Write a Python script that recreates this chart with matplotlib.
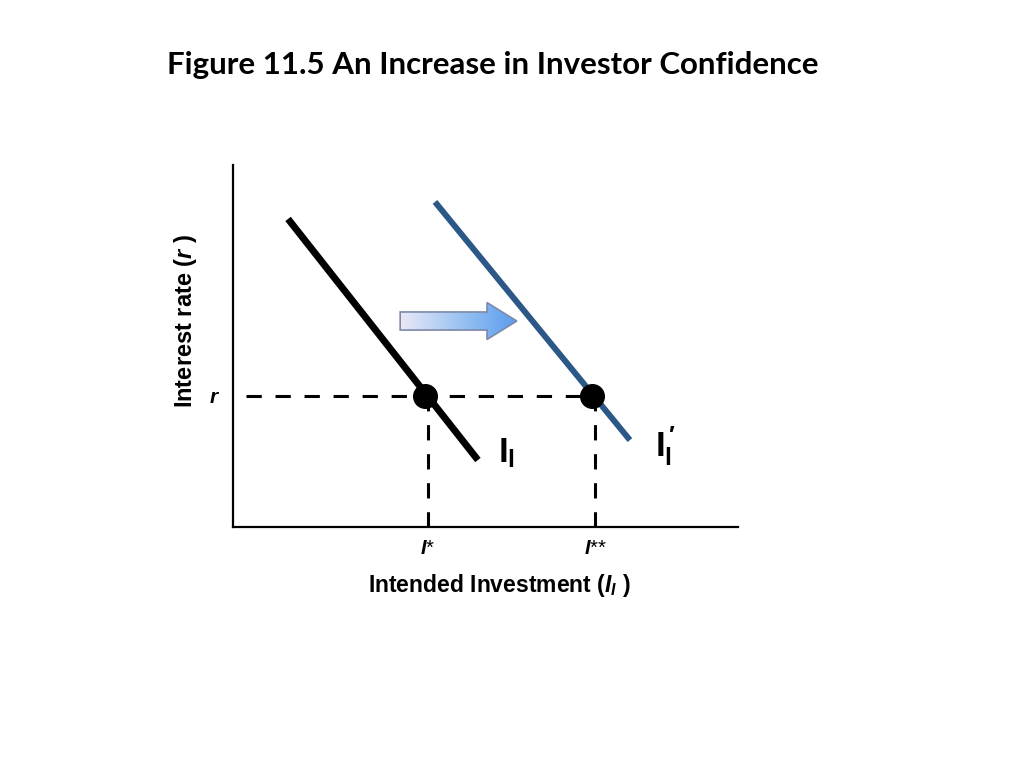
import numpy as np
import matplotlib
matplotlib.use("Agg")
import matplotlib.pyplot as plt
from matplotlib.patches import FancyArrow

plt.rcParams['font.family'] = ['Liberation Sans', 'DejaVu Sans']
plt.rcParams['mathtext.fontset'] = 'custom'
plt.rcParams['mathtext.rm'] = 'Liberation Sans:bold'
plt.rcParams['mathtext.it'] = 'Liberation Sans:italic:bold'
plt.rcParams['mathtext.bf'] = 'Liberation Sans:bold'

# curves (axis units 0-100)
ii_x = [10.9, 48.5]
ii_y = [85.1, 18.5]
ii2_x = [40.0, 78.6]
ii2_y = [89.8, 24.0]
# equilibrium points
eq_x = [38.0, 71.1]
eq_y = [36.2, 36.2]
tick_labels = ['$I$*', '$I$**']

fig = plt.figure(figsize=(10.24, 7.68), dpi=100)
fig.text(0.481, 0.915, 'Figure 11.5 An Increase in Investor Confidence',
         ha='center', va='center', fontsize=22.5, fontweight='bold', family='Lato')

ax = fig.add_axes([233/1024, 1-527/768, 505/1024, 362/768])
ax.set_xlim(0, 100)
ax.set_ylim(0, 100)
for s in ['top', 'right']:
    ax.spines[s].set_visible(False)
for s in ['left', 'bottom']:
    ax.spines[s].set_linewidth(1.6)

# dashed guides
ax.plot([2.5, eq_x[1]], [eq_y[0], eq_y[0]], color='black', lw=2.2, dashes=(5, 4.5))
for x in eq_x:
    ax.plot([x + 0.6, x + 0.6], [0, eq_y[0]], color='black', lw=2.2, dashes=(5, 4.5))

ax.plot(ii_x, ii_y, color='black', lw=5, solid_capstyle='butt')
ax.plot(ii2_x, ii2_y, color='#2b5886', lw=4.3, solid_capstyle='butt')
ax.plot(eq_x, eq_y, 'o', color='black', ms=17, zorder=5)

# shift arrow with gradient fill
arr = FancyArrow(33.1, 56.9, 23.1, 0, width=5.0, head_width=10.2, head_length=5.9,
                 length_includes_head=True, facecolor='none', edgecolor='#7d8aa8', lw=1.2, zorder=4)
ax.add_patch(arr)
grad = np.linspace(0, 1, 256).reshape(1, -1)
cmap = matplotlib.colors.LinearSegmentedColormap.from_list('g', ['#ece8f6', '#9cc4f2', '#5b9cee'])
im = ax.imshow(grad, extent=[33.1, 56.2, 51.7, 62.0], aspect='auto', cmap=cmap, zorder=3)
im.set_clip_path(arr)

ax.set_xticks([eq_x[0] + 0.6, eq_x[1] + 0.6], tick_labels, fontsize=14.5)
ax.set_yticks([eq_y[0]], ['$r$'], fontsize=15)
ax.tick_params(length=0, pad=9)

ax.set_xlabel('Intended Investment ($I_I$ )', fontsize=16.5, fontweight='bold')
ax.set_ylabel('Interest rate ($r$ )', fontsize=17, fontweight='bold')
ax.xaxis.set_label_coords(0.527, -0.125)
ax.yaxis.set_label_coords(-0.068, 0.569)

ax.text(52.5, 20.5, r'$\mathbf{I}_{\mathbf{l}}$', fontsize=25, ha='left', va='center')
ax.text(83.5, 22.5, r"$\mathbf{I}_{\mathbf{l}}^{\,\prime}$", fontsize=25, ha='left', va='center')

fig.savefig('out.png', dpi=100)
